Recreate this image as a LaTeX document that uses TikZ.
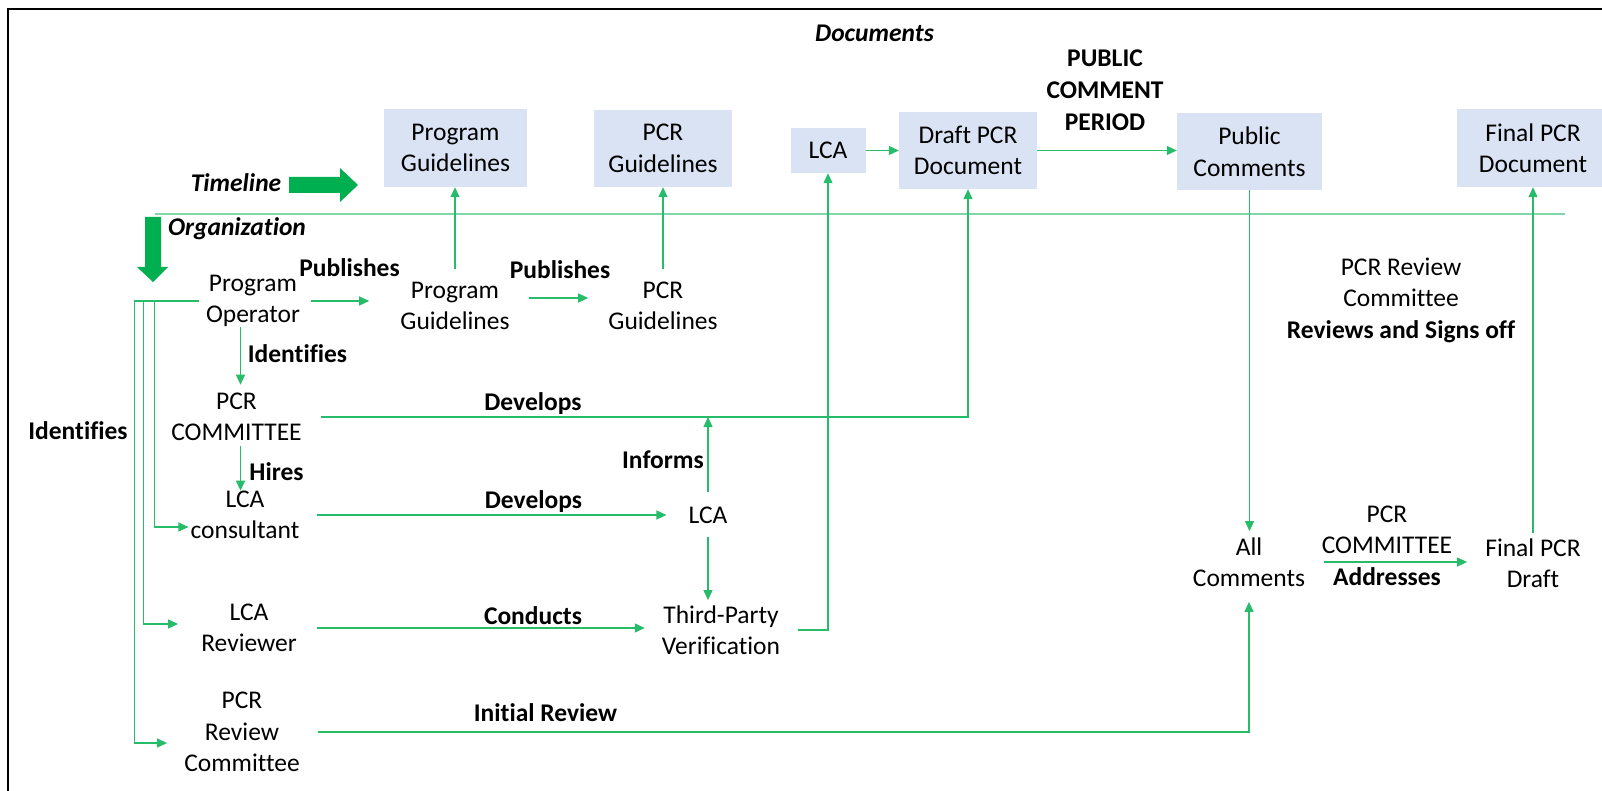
\documentclass[tikz,border=0pt]{standalone}
\usepackage{fontspec}
\setmainfont{Carlito}[Ligatures=NoCommon]
\usetikzlibrary{arrows.meta}
\definecolor{flowgreen}{HTML}{00B050}
\definecolor{docblue}{HTML}{DAE3F3}
\colorlet{railgreen}{flowgreen!50}

\begin{document}
\begin{tikzpicture}[
    x=1pt, y=-1pt,
    every node/.style={font=\fontsize{25.5}{31.5}\selectfont, inner sep=0pt, align=center},
    doc/.style={fill=docblue, minimum width=#1, minimum height=77pt},
    verb/.style={font=\fontsize{25.5}{31.5}\selectfont\bfseries},
    head/.style={font=\fontsize{25.5}{31.5}\selectfont\bfseries\itshape},
    link/.style={draw=flowgreen!85, line width=1.2pt},
    >={Triangle[length=10pt,width=9pt]}
]
    \useasboundingbox (0,0) rectangle (1602,791);
    \draw[line width=2.5pt] (8,791) -- (8,9) -- (1602,9);

    % Headings and the two big arrows
    \node[head] (documents) at (874.5,33) {Documents};
    \node[head] (timeline) at (236,183) {Timeline};
    \node[head] (organization) at (237,229) {Organization};
    \fill[flowgreen] (289,177) -- (340,177) -- (340,168) -- (358,185) -- (340,202) -- (340,193) -- (289,193) -- cycle;
    \fill[flowgreen] (145,217) -- (161,217) -- (161,267) -- (168,267) -- (153,282) -- (137,267) -- (145,267) -- cycle;
    \draw[railgreen, line width=2pt] (155,214) -- (1565,214);

    % Document row
    \node[doc=143pt, minimum height=78pt] (docpg) at (455.5,148) {Program\\Guidelines};
    \node[doc=138pt] (docpcr) at (663,148.5) {PCR\\Guidelines};
    \node[doc=75pt, minimum height=45pt] (doclca) at (828,150.5) {LCA};
    \node[doc=138pt] (docdraft) at (968,150.5) {Draft PCR\\Document};
    \node[doc=145pt] (docpub) at (1249.5,151.5) {Public\\Comments};
    \node[doc=152pt, minimum height=78pt] (docfinal) at (1533,148) {Final PCR\\Document};
    \node[verb, font=\fontsize{25.5}{32}\selectfont\bfseries] (period) at (1105,90) {PUBLIC\\COMMENT\\PERIOD};

    % Organization side
    \node (po) at (253,301) {Program\\Operator};
    \node (pgo) at (455,306) {Program\\Guidelines};
    \node (pcro) at (663,306) {PCR\\Guidelines};
    \node (pcrc) at (236.5,417) {PCR\\COMMITTEE};
    \node (lcac) at (245,515) {LCA\\consultant};
    \node (lca) at (708,515) {LCA};
    \node (tpv) at (721,630) {Third-Party\\Verification};
    \node (lcar) at (249,628) {LCA\\Reviewer};
    \node (pcrrc) at (242,732) {PCR\\Review\\Committee};
    \node (allc) at (1249,562) {All\\Comments};
    \node (fpd) at (1533,563) {Final PCR\\Draft};
    \node (reviewers) at (1401,300) {PCR Review\\Committee\\\textbf{Reviews and Signs off}};
    \node (addresser) at (1387,530) {PCR\\COMMITTEE};

    % Verbs on the connectors
    \node[verb] (pub1) at (349.5,268) {Publishes};
    \node[verb] (pub2) at (560,270) {Publishes};
    \node[verb] (idf1) at (297.5,354) {Identifies};
    \node[verb] (idf2) at (78,431) {Identifies};
    \node[verb] (dev1) at (533,404) {Develops};
    \node[verb] (hires) at (276.5,472) {Hires};
    \node[verb] (informs) at (663,460) {Informs};
    \node[verb] (dev2) at (533.5,502) {Develops};
    \node[verb] (conducts) at (533,616) {Conducts};
    \node[verb] (initrev) at (545.5,713) {Initial Review};
    \node[verb] (addresses) at (1387,577) {Addresses};

    % Connectors
    \draw[link,->] (doclca) -- (docdraft);
    \draw[link,->] (docdraft.east) -- (docdraft.east -| docpub.west);
    \draw[link,->,shorten <=11pt,shorten >=31pt] (po.east) -- (po.east -| pgo.west);
    \draw[link,->,shorten <=19pt,shorten >=20pt] ([yshift=8pt]pgo.east) -- ([yshift=8pt]pgo.east -| pcro.west);
    \draw[link,->,shorten <=13pt] (pgo.north) -- (pgo.north |- docpg.south);
    \draw[link,->,shorten <=13pt] (pcro.north) -- (pcro.north |- docpcr.south);
    \draw[link,->,shorten >=8pt] ([xshift=4pt]pcrc.north |- po.south) -- ([xshift=4pt]pcrc.north);
    \draw[link,->,shorten <=5pt] ([xshift=4pt]pcrc.south) -- ([xshift=4pt]pcrc.south |- lcac.north);
    \draw[link,->,shorten <=19pt] (pcrc.east) -| (docdraft.south);
    \draw[link,->,shorten <=17pt,shorten >=22pt] (lcac.east) -- (lcac.east -| lca.west);
    \draw[link,->,shorten <=14pt] (lca.north) -- (lca.north |- pcrc.east);
    \draw[link,->,shorten <=13pt,shorten >=5pt] (lca.south) -- (lca.south |- tpv.north);
    \draw[link,->,shorten <=20pt,shorten >=17pt] (lcar.east) -- (lcar.east -| tpv.west);
    \draw[link,->,shorten <=18pt] (tpv.east) -| (doclca.south);
    \draw[link,->,shorten <=18pt,shorten >=15pt] (pcrrc.east) -| (allc.south);
    \draw[link,->,shorten >=6pt] (docpub.south) -- (docpub.south |- allc.north);
    \draw[link,->,shorten <=19pt,shorten >=18pt] (allc.east) -- (allc.east -| fpd.west);
    \draw[link,->,shorten <=5pt] (fpd.north) -- (fpd.north |- docfinal.south);

    % Program operator identifies the others
    \draw[link,->,shorten <=7pt,shorten >=17pt] (po.west) -- ++(-71,0) |- ([yshift=-11pt]pcrrc.west);
    \draw[link,->,shorten <=7pt,shorten >=23pt] (po.west) -- ++(-62,0) |- ([yshift=4pt]lcar.west);
    \draw[link,->,shorten <=7pt,shorten >=2pt] (po.west) -- ++(-51,0) |- ([yshift=-12pt]lcac.west);
\end{tikzpicture}
\end{document}
